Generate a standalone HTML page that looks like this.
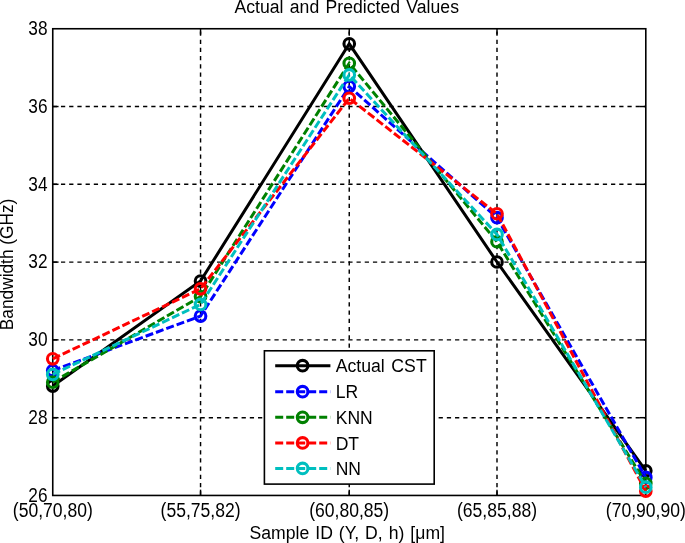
<!DOCTYPE html>
<html><head><meta charset="utf-8"><title>Actual and Predicted Values</title>
<style>html,body{margin:0;padding:0;background:#fff;}svg{display:block;}text{font-family:"Liberation Sans",Arial,sans-serif;fill:#000;}</style></head><body>
<svg width="685" height="543" viewBox="0 0 685 543">
<rect x="0" y="0" width="685" height="543" fill="#fff"/>
<g stroke="#000" stroke-width="1.45" stroke-dasharray="4.25 3.96" fill="none">
<line x1="200.55" y1="495.45" x2="200.55" y2="28.75"/>
<line x1="349.25" y1="495.45" x2="349.25" y2="28.75"/>
<line x1="497.00" y1="495.45" x2="497.00" y2="28.75"/>
<line x1="52.75" y1="417.67" x2="645.80" y2="417.67"/>
<line x1="52.75" y1="339.88" x2="645.80" y2="339.88"/>
<line x1="52.75" y1="262.10" x2="645.80" y2="262.10"/>
<line x1="52.75" y1="184.32" x2="645.80" y2="184.32"/>
<line x1="52.75" y1="106.53" x2="645.80" y2="106.53"/>
</g>
<g stroke="#000" stroke-width="1.45" fill="none">
<line x1="200.55" y1="495.45" x2="200.55" y2="489.65"/>
<line x1="200.55" y1="28.75" x2="200.55" y2="34.55"/>
<line x1="349.25" y1="495.45" x2="349.25" y2="489.65"/>
<line x1="349.25" y1="28.75" x2="349.25" y2="34.55"/>
<line x1="497.00" y1="495.45" x2="497.00" y2="489.65"/>
<line x1="497.00" y1="28.75" x2="497.00" y2="34.55"/>
<line x1="52.75" y1="417.67" x2="58.55" y2="417.67"/>
<line x1="645.80" y1="417.67" x2="640.00" y2="417.67"/>
<line x1="52.75" y1="339.88" x2="58.55" y2="339.88"/>
<line x1="645.80" y1="339.88" x2="640.00" y2="339.88"/>
<line x1="52.75" y1="262.10" x2="58.55" y2="262.10"/>
<line x1="645.80" y1="262.10" x2="640.00" y2="262.10"/>
<line x1="52.75" y1="184.32" x2="58.55" y2="184.32"/>
<line x1="645.80" y1="184.32" x2="640.00" y2="184.32"/>
<line x1="52.75" y1="106.53" x2="58.55" y2="106.53"/>
<line x1="645.80" y1="106.53" x2="640.00" y2="106.53"/>
</g>
<rect x="52.75" y="28.75" width="593.05" height="466.70" fill="none" stroke="#000" stroke-width="1.6"/>
<polyline points="52.75,386.05 200.55,281.05 349.25,43.81 497.00,261.99 645.80,470.84" fill="none" stroke="#000000" stroke-width="3.0" stroke-linejoin="miter"/>
<circle cx="52.75" cy="386.05" r="5.3" fill="none" stroke="#000000" stroke-width="3.1"/>
<circle cx="200.55" cy="281.05" r="5.3" fill="none" stroke="#000000" stroke-width="3.1"/>
<circle cx="349.25" cy="43.81" r="5.3" fill="none" stroke="#000000" stroke-width="3.1"/>
<circle cx="497.00" cy="261.99" r="5.3" fill="none" stroke="#000000" stroke-width="3.1"/>
<circle cx="645.80" cy="470.84" r="5.3" fill="none" stroke="#000000" stroke-width="3.1"/>
<polyline points="52.75,370.50 200.55,316.05 349.25,86.59 497.00,217.65 645.80,477.45" fill="none" stroke="#0000ff" stroke-width="3.0" stroke-linejoin="miter" stroke-dasharray="8 3"/>
<circle cx="52.75" cy="370.50" r="5.3" fill="none" stroke="#0000ff" stroke-width="3.1"/>
<circle cx="200.55" cy="316.05" r="5.3" fill="none" stroke="#0000ff" stroke-width="3.1"/>
<circle cx="349.25" cy="86.59" r="5.3" fill="none" stroke="#0000ff" stroke-width="3.1"/>
<circle cx="497.00" cy="217.65" r="5.3" fill="none" stroke="#0000ff" stroke-width="3.1"/>
<circle cx="645.80" cy="477.45" r="5.3" fill="none" stroke="#0000ff" stroke-width="3.1"/>
<polyline points="52.75,382.16 200.55,296.60 349.25,63.25 497.00,241.77 645.80,483.28" fill="none" stroke="#008000" stroke-width="3.0" stroke-linejoin="miter" stroke-dasharray="8 3"/>
<circle cx="52.75" cy="382.16" r="5.3" fill="none" stroke="#008000" stroke-width="3.1"/>
<circle cx="200.55" cy="296.60" r="5.3" fill="none" stroke="#008000" stroke-width="3.1"/>
<circle cx="349.25" cy="63.25" r="5.3" fill="none" stroke="#008000" stroke-width="3.1"/>
<circle cx="497.00" cy="241.77" r="5.3" fill="none" stroke="#008000" stroke-width="3.1"/>
<circle cx="645.80" cy="483.28" r="5.3" fill="none" stroke="#008000" stroke-width="3.1"/>
<polyline points="52.75,358.83 200.55,288.82 349.25,98.25 497.00,213.76 645.80,491.06" fill="none" stroke="#ff0000" stroke-width="3.0" stroke-linejoin="miter" stroke-dasharray="8 3"/>
<circle cx="52.75" cy="358.83" r="5.3" fill="none" stroke="#ff0000" stroke-width="3.1"/>
<circle cx="200.55" cy="288.82" r="5.3" fill="none" stroke="#ff0000" stroke-width="3.1"/>
<circle cx="349.25" cy="98.25" r="5.3" fill="none" stroke="#ff0000" stroke-width="3.1"/>
<circle cx="497.00" cy="213.76" r="5.3" fill="none" stroke="#ff0000" stroke-width="3.1"/>
<circle cx="645.80" cy="491.06" r="5.3" fill="none" stroke="#ff0000" stroke-width="3.1"/>
<polyline points="52.75,374.39 200.55,304.38 349.25,74.92 497.00,234.38 645.80,487.17" fill="none" stroke="#00bfbf" stroke-width="3.0" stroke-linejoin="miter" stroke-dasharray="8 3"/>
<circle cx="52.75" cy="374.39" r="5.3" fill="none" stroke="#00bfbf" stroke-width="3.1"/>
<circle cx="200.55" cy="304.38" r="5.3" fill="none" stroke="#00bfbf" stroke-width="3.1"/>
<circle cx="349.25" cy="74.92" r="5.3" fill="none" stroke="#00bfbf" stroke-width="3.1"/>
<circle cx="497.00" cy="234.38" r="5.3" fill="none" stroke="#00bfbf" stroke-width="3.1"/>
<circle cx="645.80" cy="487.17" r="5.3" fill="none" stroke="#00bfbf" stroke-width="3.1"/>
<rect x="264.4" y="350.8" width="169.80" height="133.30" fill="#fff" stroke="#000" stroke-width="1.6"/>
<line x1="275.2" y1="365.7" x2="330.4" y2="365.7" stroke="#000000" stroke-width="3.0"/>
<circle cx="302.6" cy="365.7" r="5.3" fill="none" stroke="#000000" stroke-width="3.1"/>
<text x="335.7" y="372.4" font-size="19.2" word-spacing="1.8" textLength="91.0" lengthAdjust="spacingAndGlyphs">Actual CST</text>
<line x1="275.2" y1="391.7" x2="330.4" y2="391.7" stroke="#0000ff" stroke-width="3.0" stroke-dasharray="8 3"/>
<circle cx="302.6" cy="391.7" r="5.3" fill="none" stroke="#0000ff" stroke-width="3.1"/>
<text x="335.7" y="398.4" font-size="19.2" word-spacing="1.8" textLength="22.4" lengthAdjust="spacingAndGlyphs">LR</text>
<line x1="275.2" y1="417.3" x2="330.4" y2="417.3" stroke="#008000" stroke-width="3.0" stroke-dasharray="8 3"/>
<circle cx="302.6" cy="417.3" r="5.3" fill="none" stroke="#008000" stroke-width="3.1"/>
<text x="335.7" y="424.0" font-size="19.2" word-spacing="1.8" textLength="37.0" lengthAdjust="spacingAndGlyphs">KNN</text>
<line x1="275.2" y1="442.9" x2="330.4" y2="442.9" stroke="#ff0000" stroke-width="3.0" stroke-dasharray="8 3"/>
<circle cx="302.6" cy="442.9" r="5.3" fill="none" stroke="#ff0000" stroke-width="3.1"/>
<text x="335.7" y="449.6" font-size="19.2" word-spacing="1.8" textLength="23.4" lengthAdjust="spacingAndGlyphs">DT</text>
<line x1="275.2" y1="468.4" x2="330.4" y2="468.4" stroke="#00bfbf" stroke-width="3.0" stroke-dasharray="8 3"/>
<circle cx="302.6" cy="468.4" r="5.3" fill="none" stroke="#00bfbf" stroke-width="3.1"/>
<text x="335.7" y="475.1" font-size="19.2" word-spacing="1.8" textLength="25.3" lengthAdjust="spacingAndGlyphs">NN</text>
<text x="47.5" y="501.8" font-size="19.7" text-anchor="end" textLength="19.2" lengthAdjust="spacingAndGlyphs">26</text>
<text x="47.5" y="424.0" font-size="19.7" text-anchor="end" textLength="19.2" lengthAdjust="spacingAndGlyphs">28</text>
<text x="47.5" y="346.2" font-size="19.7" text-anchor="end" textLength="19.2" lengthAdjust="spacingAndGlyphs">30</text>
<text x="47.5" y="268.4" font-size="19.7" text-anchor="end" textLength="19.2" lengthAdjust="spacingAndGlyphs">32</text>
<text x="47.5" y="190.6" font-size="19.7" text-anchor="end" textLength="19.2" lengthAdjust="spacingAndGlyphs">34</text>
<text x="47.5" y="112.8" font-size="19.7" text-anchor="end" textLength="19.2" lengthAdjust="spacingAndGlyphs">36</text>
<text x="47.5" y="35.0" font-size="19.7" text-anchor="end" textLength="19.2" lengthAdjust="spacingAndGlyphs">38</text>
<text x="52.8" y="516.8" font-size="19.7" text-anchor="middle" textLength="80" lengthAdjust="spacingAndGlyphs">(50,70,80)</text>
<text x="200.6" y="516.8" font-size="19.7" text-anchor="middle" textLength="80" lengthAdjust="spacingAndGlyphs">(55,75,82)</text>
<text x="349.2" y="516.8" font-size="19.7" text-anchor="middle" textLength="80" lengthAdjust="spacingAndGlyphs">(60,80,85)</text>
<text x="497.0" y="516.8" font-size="19.7" text-anchor="middle" textLength="80" lengthAdjust="spacingAndGlyphs">(65,85,88)</text>
<text x="645.8" y="516.8" font-size="19.7" text-anchor="middle" textLength="80" lengthAdjust="spacingAndGlyphs">(70,90,90)</text>
<text x="346.7" y="13.3" font-size="19.2" text-anchor="middle" word-spacing="1.6" textLength="224.5" lengthAdjust="spacingAndGlyphs">Actual and Predicted Values</text>
<text x="347.25" y="539.3" font-size="19.2" text-anchor="middle" word-spacing="1.2" textLength="195.5" lengthAdjust="spacingAndGlyphs">Sample ID (Y, D, h) [μm]</text>
<text transform="translate(13.1,264.4) rotate(-90)" font-size="17.8" text-anchor="middle" textLength="131.5" lengthAdjust="spacingAndGlyphs">Bandwidth (GHz)</text>
</svg></body></html>
